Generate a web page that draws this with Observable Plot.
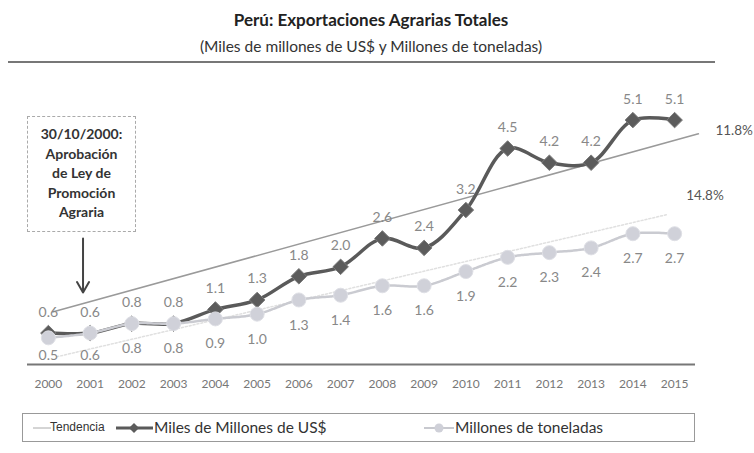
<!DOCTYPE html>
<html><head><meta charset="utf-8">
<script src="https://cdn.jsdelivr.net/npm/d3@7"></script>
<script src="https://cdn.jsdelivr.net/npm/@observablehq/plot@0.6"></script>
<style>
body{margin:0;background:#fff;font-family:Lato,"Open Sans",sans-serif;}
#wrap{position:relative;width:754px;height:453px;overflow:hidden;background:#fff;}
#wrap > svg{position:absolute;left:0;top:0;}
.title{position:absolute;left:0;width:742px;text-align:center;color:#222;white-space:nowrap;}
#t1{top:9px;font-size:17px;font-weight:bold;}
#t2{top:37px;font-size:15.5px;color:#333;}
#rule{position:absolute;left:8px;top:61px;width:707px;height:2px;background:#777;}
#note{position:absolute;left:27px;top:116px;width:109px;height:116px;border:1px dashed #aaa;box-sizing:border-box;
  text-align:center;font-weight:bold;font-size:14px;line-height:19.6px;color:#333;padding-top:7px;}
#legend{position:absolute;left:22px;top:413px;width:673px;height:29px;border:1px solid #999;box-sizing:border-box;}
#legend .it{position:absolute;top:0;height:27px;line-height:27px;color:#333;white-space:nowrap;}
#legend svg{position:absolute;top:0;}
</style></head>
<body><div id="wrap">
<div class="title" id="t1"></div>
<div class="title" id="t2"></div>
<div id="rule"></div>
</div>
<script>
// ---- data ----
const years = [2000,2001,2002,2003,2004,2005,2006,2007,2008,2009,2010,2011,2012,2013,2014,2015];
const usd = [0.6,0.6,0.8,0.8,1.1,1.3,1.8,2.0,2.6,2.4,3.2,4.5,4.2,4.2,5.1,5.1];
const tonnes = [0.5,0.6,0.8,0.8,0.9,1.0,1.3,1.4,1.6,1.6,1.9,2.2,2.3,2.4,2.7,2.7];
const trendUsdYears = [2000.12, 2015.57];
const trendUsdValues = [1.05, 4.81];
const trendTonYears = [2000.2, 2014.8];
const trendTonValues = [0.1, 3.1];
const trendLabels = ["11.8%", "14.8%"];
const lawDate = 2000.83;          // 30/10/2000
const arrowValues = [2.6, 1.46];
const titleText = "Perú: Exportaciones Agrarias Totales";
const subtitleText = "(Miles de millones de US$ y Millones de toneladas)";
const noteLines = ["30/10/2000:", "Aprobación", "de Ley de", "Promoción", "Agraria"];
const seriesNames = ["Tendencia", "Miles de Millones de US$", "Millones de toneladas"];

// ---- build ----
const usdData = years.map((y,i)=>({year:y, value:usd[i]}));
const tonData = years.map((y,i)=>({year:y, value:tonnes[i]}));
const trendUsd = trendUsdYears.map((y,i)=>({year:y, value:trendUsdValues[i]}));
const trendTon = trendTonYears.map((y,i)=>({year:y, value:trendTonValues[i]}));

const fmt = d3.format(".1f");
const chart = Plot.plot({
  width:754, height:453,
  marginTop:77, marginBottom:92, marginLeft:27, marginRight:59,
  x:{domain:[1999.5,2015.5], axis:null},
  y:{domain:[0,6], axis:null},
  style:{fontFamily:"Lato, 'Open Sans', sans-serif", background:"transparent", overflow:"visible"},
  marks:[
    Plot.ruleY([0], {stroke:"#777", strokeWidth:2, dy:3}),
    Plot.axisX({ticks:years, tickSize:0, tickPadding:18, tickFormat:d=>String(d), label:null, fontSize:12, fill:"#777"}),
    Plot.line(trendUsd, {x:"year", y:"value", stroke:"#9a9a9a", strokeWidth:1.5}),
    Plot.line(trendTon, {x:"year", y:"value", stroke:"#e0e0e0", strokeWidth:1.5, strokeDasharray:"2,2"}),
    Plot.line(usdData, {x:"year", y:"value", stroke:"#5a5a5a", strokeWidth:3.5, curve:"catmull-rom"}),
    Plot.dot(usdData, {x:"year", y:"value", symbol:"diamond2", r:7, fill:"#5c5c5c", stroke:"#7a7a7a", strokeWidth:1}),
    Plot.line(tonData, {x:"year", y:"value", stroke:"#cacbd1", strokeWidth:2.5, strokeDasharray:"3,1", curve:"catmull-rom"}),
    Plot.dot(tonData, {x:"year", y:"value", r:7, fill:"#d0d1d9", stroke:"#dedfe5", strokeWidth:1}),
    Plot.text(usdData, {x:"year", y:"value", text:d=>fmt(d.value), dy:-21, fill:"#888", fontSize:14}),
    Plot.text(tonData, {x:"year", y:d=>Math.max(d.value - 0.53, 0.12), text:d=>fmt(d.value), fill:"#888", fontSize:14}),
    Plot.text(trendUsd.slice(-1), {x:"year", y:"value", text:()=>trendLabels[0], textAnchor:"start", dx:17, dy:-3, fill:"#555", fontSize:13.5}),
    Plot.text(trendTon.slice(-1), {x:"year", y:"value", text:()=>trendLabels[1], textAnchor:"start", dx:20, dy:-19, fill:"#555", fontSize:13.5}),
    Plot.arrow([lawDate], {x1:d=>d, x2:d=>d, y1:()=>arrowValues[0], y2:()=>arrowValues[1], stroke:"#444", strokeWidth:2, headLength:9})
  ]
});
const wrap = document.getElementById("wrap");
wrap.appendChild(chart);
document.getElementById("t1").textContent = titleText;
document.getElementById("t2").textContent = subtitleText;

const note = document.createElement("div");
note.id = "note";
note.innerHTML = noteLines.map(s=>`<div>${s}</div>`).join("");
wrap.appendChild(note);

// legend
const legend = document.createElement("div");
legend.id = "legend";
legend.innerHTML = `
<svg style="left:10px" width="20" height="27"><line x1="0" x2="18" y1="14" y2="14" stroke="#aaa" stroke-width="1"/></svg>
<span class="it" style="left:27px;font-size:12px;font-family:'Liberation Sans Narrow',sans-serif;">${seriesNames[0]}</span>
<svg style="left:92px" width="40" height="27"><line x1="1" x2="38" y1="14" y2="14" stroke="#5a5a5a" stroke-width="3"/><path d="M19,9 L24,14 L19,19 L14,14Z" fill="#5c5c5c"/></svg>
<span class="it" style="left:131px;font-size:15.5px;">${seriesNames[1]}</span>
<svg style="left:400px" width="32" height="27"><line x1="1" x2="31" y1="14" y2="14" stroke="#c8c9cf" stroke-width="2"/><circle cx="16" cy="14" r="4.5" fill="#cfd0d8"/></svg>
<span class="it" style="left:432px;font-size:15.5px;">${seriesNames[2]}</span>`;
wrap.appendChild(legend);
</script>
</body></html>
